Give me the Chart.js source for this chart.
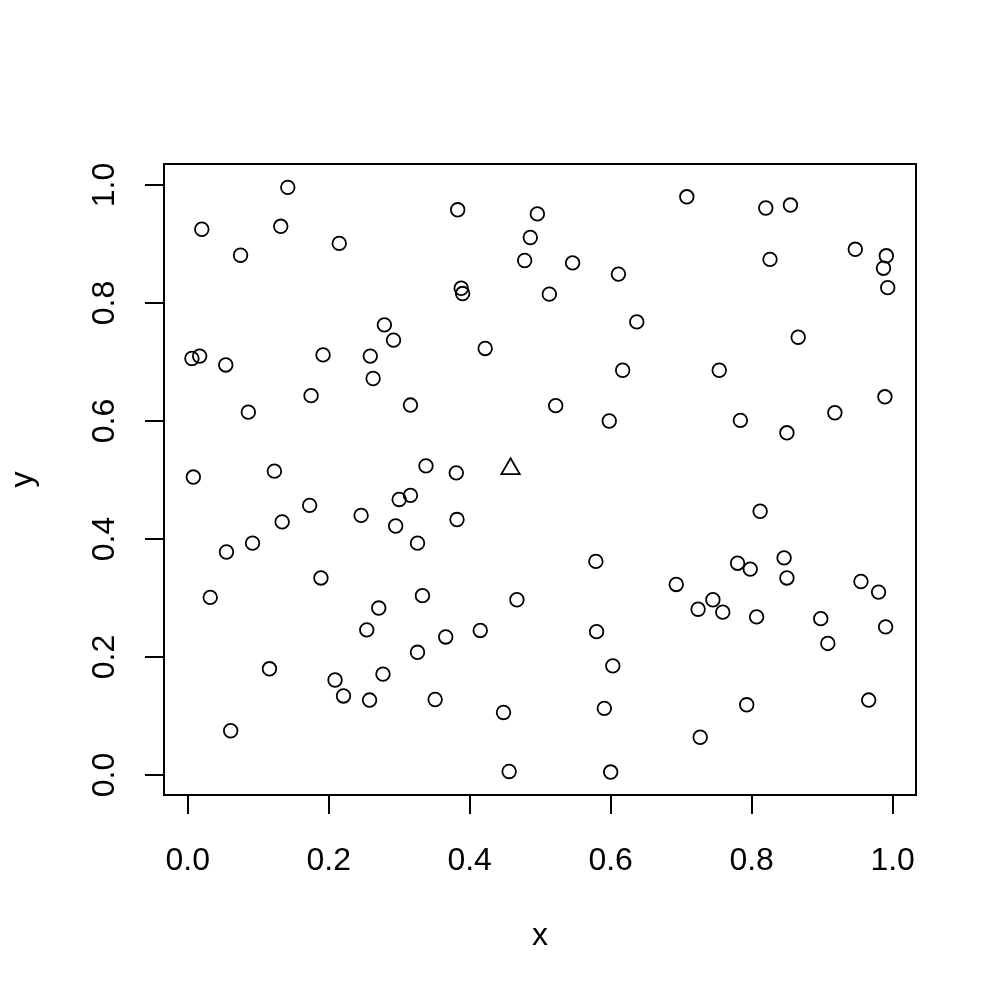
<!DOCTYPE html>
<html>
<head>
<meta charset="utf-8">
<title>x vs y</title>
<script src="https://cdn.jsdelivr.net/npm/chart.js@4.4.1/dist/chart.umd.min.js"></script>
<style>
  body { margin: 0; background: #fff; }
  #wrap { width: 1000px; height: 1000px; }
</style>
</head>
<body>
<div id="wrap"><canvas id="plot" width="1000" height="1000"></canvas></div>
<script>
// values
var xVals = [0.142, 0.020, 0.132, 0.075, 0.215, 0.383, 0.496, 0.486, 0.478, 0.388,
  0.390, 0.279, 0.292, 0.422, 0.006, 0.017, 0.054, 0.192, 0.259, 0.263,
  0.175, 0.316, 0.086, 0.008, 0.123, 0.338, 0.381, 0.708, 0.820, 0.855,
  0.546, 0.611, 0.513, 0.826, 0.947, 0.991, 0.987, 0.993, 0.637, 0.866,
  0.617, 0.754, 0.522, 0.598, 0.784, 0.850, 0.918, 0.989, 0.300, 0.316,
  0.173, 0.246, 0.134, 0.295, 0.382, 0.092, 0.055, 0.326, 0.189, 0.032,
  0.333, 0.467, 0.271, 0.254, 0.366, 0.415, 0.326, 0.116, 0.209, 0.221,
  0.277, 0.258, 0.351, 0.448, 0.061, 0.456, 0.812, 0.579, 0.846, 0.780,
  0.798, 0.850, 0.693, 0.955, 0.980, 0.745, 0.724, 0.759, 0.807, 0.898,
  0.990, 0.908, 0.580, 0.603, 0.591, 0.793, 0.966, 0.727, 0.600];
var yVals = [0.996, 0.925, 0.930, 0.881, 0.901, 0.958, 0.951, 0.911, 0.872, 0.825,
  0.816, 0.763, 0.737, 0.723, 0.706, 0.710, 0.695, 0.712, 0.710, 0.672,
  0.643, 0.627, 0.615, 0.505, 0.515, 0.524, 0.512, 0.980, 0.961, 0.966,
  0.868, 0.849, 0.815, 0.874, 0.891, 0.880, 0.859, 0.826, 0.768, 0.742,
  0.686, 0.686, 0.626, 0.600, 0.601, 0.580, 0.614, 0.641, 0.467, 0.474,
  0.457, 0.440, 0.429, 0.422, 0.433, 0.393, 0.378, 0.393, 0.334, 0.301,
  0.304, 0.297, 0.283, 0.246, 0.234, 0.245, 0.208, 0.180, 0.161, 0.134,
  0.171, 0.127, 0.128, 0.106, 0.075, 0.006, 0.447, 0.362, 0.368, 0.359,
  0.349, 0.334, 0.323, 0.328, 0.310, 0.297, 0.281, 0.276, 0.268, 0.265,
  0.251, 0.223, 0.243, 0.185, 0.113, 0.119, 0.127, 0.064, 0.005];

var markX = [0.458];
var markY = [0.519];

var xTicks = [0.0, 0.2, 0.4, 0.6, 0.8, 1.0];
var yTicks = [0.0, 0.2, 0.4, 0.6, 0.8, 1.0];

function toPoints(xs, ys) {
  var pts = [];
  for (var i = 0; i < xs.length; i++) {
    pts.push({x: xs[i], y: ys[i]});
  }
  return pts;
}

var font = {family: '"Liberation Sans", Arial, Helvetica, sans-serif', size: 32};

// R style box round the plotting region
var boxPlugin = {
  id: 'box',
  afterDraw: function(chart) {
    var a = chart.chartArea, ctx = chart.ctx;
    ctx.save();
    ctx.strokeStyle = '#000';
    ctx.lineWidth = 2;
    ctx.strokeRect(a.left, a.top, a.right - a.left, a.bottom - a.top);
    ctx.restore();
  }
};

new Chart(document.getElementById('plot'), {
  type: 'scatter',
  data: {
    datasets: [{
      data: toPoints(xVals, yVals),
      pointStyle: 'circle',
      pointRadius: 6.8,
      pointHoverRadius: 6.8,
      borderWidth: 1.8,
      borderColor: '#000',
      backgroundColor: 'rgba(0,0,0,0)'
    }, {
      data: toPoints(markX, markY),
      pointStyle: 'triangle',
      pointRadius: 10.6,
      pointHoverRadius: 10.6,
      borderWidth: 1.8,
      borderColor: '#000',
      backgroundColor: 'rgba(0,0,0,0)'
    }]
  },
  options: {
    responsive: false,
    animation: false,
    devicePixelRatio: 1,
    layout: {padding: {top: 164, right: 84, left: 0, bottom: 0}},
    plugins: {legend: {display: false}, tooltip: {enabled: false}},
    scales: {
      x: {
        type: 'linear',
        min: -0.0336,
        max: 1.0331,
        afterBuildTicks: function(s) { s.ticks = xTicks.map(function(v) { return {value: v}; }); },
        afterFit: function(s) { s.height = 205; },
        border: {display: false},
        grid: {drawOnChartArea: false, drawTicks: true, tickLength: 19, color: '#000', lineWidth: 2},
        ticks: {
          color: '#000', font: font, padding: 28, maxRotation: 0, autoSkip: false,
          callback: function(v) { return v.toFixed(1); }
        },
        title: {display: true, text: 'x', color: '#000', font: font, padding: {top: 0, bottom: 45}}
      },
      y: {
        type: 'linear',
        min: -0.0339,
        max: 1.0356,
        afterBuildTicks: function(s) { s.ticks = yTicks.map(function(v) { return {value: v}; }); },
        afterFit: function(s) { s.width = 164; },
        border: {display: false},
        grid: {drawOnChartArea: false, drawTicks: true, tickLength: 19, color: '#000', lineWidth: 2},
        ticks: {
          color: '#000', font: font, padding: 18, minRotation: 90, maxRotation: 90,
          crossAlign: 'center', autoSkip: false,
          callback: function(v) { return v.toFixed(1); }
        },
        title: {display: true, text: 'y', color: '#000', font: font, padding: {top: 4, bottom: 0}}
      }
    }
  },
  plugins: [boxPlugin]
});
</script>
</body>
</html>
